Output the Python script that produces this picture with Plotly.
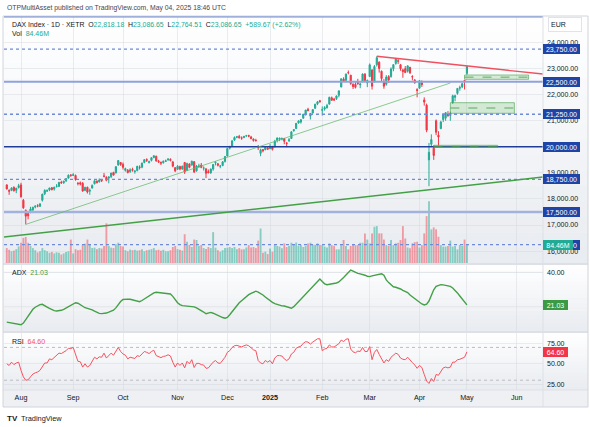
import pandas as pd
import plotly.graph_objects as go

W, H = 590, 427

# ---------------- data ----------------
HOLIDAYS = ["2024-12-24", "2024-12-25", "2024-12-26", "2024-12-31",
            "2025-01-01", "2025-04-18", "2025-04-21", "2025-05-01"]
CAL_START, CAL_END = "2024-07-22", "2025-06-30"
BAR_START, BAR_END = "2024-07-24", "2025-05-02"

OPEN = [18540, 18330, 18330, 18450, 18330, 18440,
        18540, 17950, 17560, 17440, 17520, 17580, 17690, 17740, 17720, 17950, 18200, 18300, 18350, 18430, 18380, 18480, 18480, 18640, 18620, 18700, 18800, 18920,
        18900, 18900, 18600, 18620, 18600, 18330, 18450, 18300, 18420, 18580, 18680, 18660, 18730, 18880, 18830, 18800, 18860, 19020, 19000, 19300, 19400,
        19330, 19100, 19100, 19050, 19130, 19050, 19090, 19220, 19220, 19400, 19510, 19400, 19480, 19590, 19640, 19450, 19400, 19390, 19440, 19500, 19520, 19420, 19200,
        19140, 19250, 19150, 19400, 19100, 19340, 19300, 19430, 19080, 19230, 19300, 19180, 19150, 19050, 19000, 19150, 19380, 19350, 19260, 19280, 19440,
        19650, 19950, 20030, 20260, 20370, 20400, 20350, 20360, 20420, 20440, 20380, 20300, 20250, 19980, 19750, 19900, 19890, 19950,
        19930, 20020, 20000, 20250, 20300, 20300, 20320, 20150, 20230, 20320, 20620, 20700, 20920, 20950, 21100, 21260, 21440, 21180, 21300, 21480, 21650, 21770,
        21400, 21450, 21500, 21640, 21880, 21830, 21850, 21980, 22300, 22600, 22550, 22850, 22750, 22400, 22400, 22500, 22380, 22500, 22790, 22450,
        22700, 22950, 22500, 23150, 23250, 22900, 22500, 22400, 22700, 22700, 23000, 23200, 23300, 23150, 22950, 23000, 22900, 23050, 22700, 22560, 22200,
        22250, 22450, 21800, 21600, 19500, 20100, 19950, 21000, 20450, 20700, 21050, 21100, 21250, 21200, 21700, 21900, 22050, 22250, 22300, 22550,
        22818.18]
HIGH = [18560, 18370, 18450, 18480, 18430, 18580,
        18620, 18000, 17600, 17520, 17700, 17700, 17760, 17800, 17830, 18200, 18370, 18370, 18430, 18460, 18470, 18570, 18660, 18700, 18700, 18800, 18940, 18950,
        18990, 18940, 18650, 18670, 18650, 18470, 18470, 18400, 18560, 18710, 18720, 18790, 18760, 19000, 18870, 18860, 19000, 19040, 19260, 19490, 19420,
        19400, 19200, 19150, 19180, 19200, 19110, 19270, 19290, 19400, 19520, 19560, 19470, 19600, 19675, 19660, 19500, 19440, 19480, 19510, 19560, 19560, 19460, 19220,
        19300, 19270, 19280, 19420, 19390, 19370, 19470, 19450, 19300, 19350, 19380, 19250, 19190, 19130, 19170, 19330, 19440, 19380, 19300, 19450, 19650,
        19960, 20040, 20250, 20400, 20420, 20460, 20400, 20420, 20460, 20460, 20420, 20320, 20310, 20070, 19930, 19900, 20020, 19990,
        20110, 20030, 20270, 20360, 20350, 20360, 20340, 20180, 20340, 20600, 20680, 20910, 21020, 21060, 21260, 21420, 21500, 21300, 21440, 21650, 21760, 21800,
        21550, 21560, 21650, 21920, 21930, 21880, 21970, 22160, 22620, 22670, 22800, 22930, 22760, 22440, 22480, 22610, 22460, 22820, 22830, 22580,
        23200, 22980, 23140, 23476, 23280, 22930, 22600, 22750, 22750, 23050, 23170, 23390, 23380, 23180, 23000, 23100, 23120, 23070, 22750, 22600, 22250,
        22560, 22550, 21900, 21660, 20150, 20480, 20050, 21050, 20600, 21000, 21280, 21330, 21370, 21350, 22000, 22000, 22250, 22350, 22450, 22560,
        23086.65]
LOW = [18360, 18160, 18300, 18280, 18220, 18400,
       18050, 17620, 17024, 17220, 17450, 17460, 17640, 17680, 17690, 17900, 18150, 18270, 18300, 18330, 18320, 18440, 18460, 18580, 18580, 18650, 18780, 18850,
       18890, 18700, 18520, 18520, 18280, 18300, 18210, 18160, 18400, 18560, 18590, 18630, 18650, 18830, 18680, 18600, 18800, 18900, 18980, 19280, 19270,
       19130, 19050, 18980, 19000, 19050, 18970, 19060, 19130, 19180, 19370, 19420, 19360, 19440, 19560, 19430, 19380, 19300, 19360, 19420, 19470, 19440, 19220, 19030,
       19110, 19100, 19120, 18960, 19080, 19180, 19280, 19000, 19050, 19200, 19180, 19090, 18800, 18990, 18970, 19080, 19290, 19250, 19180, 19260, 19400,
       19630, 19900, 20000, 20230, 20330, 20320, 20270, 20330, 20390, 20370, 20300, 20200, 20200, 19880, 19640, 19790, 19870, 19900,
       19910, 19860, 19980, 20170, 20220, 20250, 20100, 19990, 20190, 20300, 20580, 20690, 20890, 20890, 21080, 21200, 21360, 21050, 21280, 21460, 21600, 21700,
       21200, 21390, 21470, 21620, 21770, 21760, 21800, 21900, 22280, 22490, 22540, 22780, 22380, 22220, 22240, 22380, 22250, 22480, 22500, 22290,
       22680, 22200, 22470, 23080, 22850, 22500, 22230, 22350, 22450, 22650, 22900, 23150, 23180, 22920, 22650, 22830, 22850, 22800, 22550, 22420, 21900,
       22240, 22300, 21580, 20560, 18490, 20000, 19500, 20450, 20050, 20680, 20950, 21000, 21150, 21000, 21650, 21750, 22000, 22150, 22250, 22200,
       22764.51]
CLOSE = [18387, 18298, 18417, 18320, 18410, 18509,
         18083, 17661, 17339, 17354, 17615, 17680, 17722, 17726, 17812, 18183, 18330, 18322, 18421, 18357, 18449, 18493, 18633, 18617, 18681, 18782, 18913, 18906,
         18930, 18747, 18591, 18576, 18302, 18443, 18266, 18330, 18518, 18699, 18633, 18726, 18711, 18873, 18720, 18847, 18996, 18918, 19238, 19474, 19325,
         19213, 19164, 19015, 19121, 19104, 19066, 19254, 19210, 19373, 19508, 19486, 19432, 19583, 19657, 19461, 19421, 19377, 19443, 19464, 19531, 19479, 19257, 19078,
         19255, 19148, 19256, 19039, 19362, 19215, 19448, 19033, 19263, 19265, 19211, 19189, 18987, 19004, 19146, 19323, 19406, 19296, 19262, 19426, 19626,
         19934, 20016, 20232, 20359, 20385, 20346, 20329, 20399, 20426, 20406, 20314, 20246, 20242, 19970, 19885, 19849, 19985, 19909,
         20024, 19906, 20216, 20340, 20330, 20317, 20215, 20133, 20271, 20575, 20655, 20903, 20990, 21042, 21254, 21411, 21395, 21282, 21430, 21637, 21727, 21732,
         21428, 21505, 21586, 21902, 21787, 21800, 21953, 22148, 22612, 22513, 22798, 22844, 22433, 22314, 22287, 22426, 22410, 22794, 22550, 22551,
         23147, 22327, 23081, 23419, 23009, 22620, 22329, 22676, 22567, 22987, 23154, 23380, 23288, 22999, 22892, 22852, 23109, 22839, 22679, 22461, 22163,
         22539, 22390, 21717, 20641, 19790, 20280, 19670, 20563, 20374, 20955, 21254, 21311, 21206, 21294, 21961, 21962, 22242, 22272, 22426, 22496.98,
         23086.65]
VOLUME_M = [70, 62, 55, 58, 65, 78,
            95, 118, 122, 95, 80, 70, 60, 50, 55, 70, 60, 55, 48, 52, 45, 50, 48, 40, 45, 52, 55, 110,
            45, 65, 60, 62, 85, 90, 110, 85, 70, 72, 65, 70, 68, 80, 186, 80, 72, 70, 88, 95, 80,
            78, 60, 55, 63, 60, 62, 58, 60, 65, 55, 60, 62, 65, 70, 60, 62, 58, 62, 55, 55, 60, 75, 80,
            65, 62, 58, 135, 100, 85, 75, 110, 108, 80, 85, 70, 66, 75, 70, 145, 72, 60, 53, 60, 70,
            72, 75, 70, 75, 65, 70, 64, 64, 73, 84, 73, 75, 70, 105, 162, 48, 53, 42,
            68, 53, 84, 80, 77, 69, 92, 75, 80, 95, 85, 96, 80, 85, 75, 80, 92, 95, 85, 85, 92, 85,
            84, 77, 73, 92, 84, 80, 64, 64, 84, 108, 80, 64, 80, 84, 84, 84, 95, 95, 139, 110,
            92, 139, 170, 173, 139, 139, 110, 84, 80, 108, 84, 92, 95, 108, 173, 115, 73, 69, 92, 98, 100,
            73, 84, 139, 220, 290, 158, 167, 158, 123, 84, 77, 77, 80, 105, 77, 80, 64, 84, 80, 110,
            84.46]
ADX = [11.0, 10.8, 10.6, 10.4, 10.0, 9.6,
       9.5, 10.5, 12.5, 14.8, 16.5, 18.5, 19.7, 20.6, 21.2, 21.4, 20.8, 19.8, 19.0, 18.3, 17.7, 17.5, 17.6, 17.9, 18.5, 19.3, 20.1, 20.7,
       21.5, 22.3, 22.0, 21.0, 20.0, 19.4, 19.0, 18.7, 18.2, 17.4, 16.5, 16.1, 16.0, 16.1, 16.3, 16.8, 17.4, 18.0, 19.3, 21.3, 23.0,
       24.2, 24.5, 24.4, 24.3, 24.0, 23.5, 23.1, 22.9, 23.6, 24.5, 25.2, 26.2, 27.2, 28.0, 28.4, 28.2, 27.8, 27.6, 27.5, 27.5, 27.4, 26.0, 24.0,
       22.3, 21.2, 20.6, 20.5, 20.4, 20.2, 20.0, 19.9, 19.3, 18.6, 17.8, 16.9, 15.9, 16.2, 16.7, 16.2, 15.5, 14.8, 14.2, 13.7, 13.3,
       13.8, 15.3, 17.2, 19.0, 20.8, 22.3, 23.5, 24.8, 26.0, 27.0, 27.8, 28.5, 29.0, 28.5, 27.8, 26.8, 25.6, 24.5,
       23.5, 22.5, 21.8, 21.3, 20.8, 20.5, 20.4, 20.0, 19.4, 19.1, 20.0, 21.5, 22.9, 24.3, 25.6, 27.0, 28.5, 30.2, 31.5, 33.0, 34.6, 36.1,
       34.6, 33.3, 32.8, 33.0, 33.2, 33.4, 33.8, 34.4, 35.5, 37.0, 38.4, 40.0, 41.3, 40.7, 40.0, 39.4, 39.1, 38.9, 38.3, 37.7,
       37.5, 37.9, 38.1, 38.4, 38.9, 39.1, 38.3, 35.6, 34.0, 32.6, 31.6, 31.3, 30.9, 30.3, 29.5, 29.0, 28.2, 26.8, 25.8, 24.4, 23.3,
       22.5, 21.6, 21.0, 21.5, 23.3, 26.5, 29.8, 31.8, 32.4, 32.8, 32.7, 32.4, 32.1, 31.8, 30.9, 29.6, 28.0, 26.2, 24.5, 22.7,
       21.03]
RSI = [50, 48, 52, 49, 51, 52,
       42, 34, 30, 30.5, 34, 37.5, 39, 40, 42, 47, 51, 51, 56, 55, 58, 60, 63, 62.5, 64, 66, 69, 68.5,
       70, 60, 53, 52.5, 46, 50, 46, 48, 53, 58, 56, 58.5, 58, 63, 57, 60, 63, 60.5, 66, 70, 65,
       62, 60.5, 56, 58, 57.5, 56.5, 60, 59, 62, 65, 64, 62.5, 65, 66.5, 60, 59, 57.5, 59, 59.5, 61, 59.5, 52, 46,
       51, 48, 51, 45, 53, 50, 55, 45.5, 50.5, 50.5, 49, 48.5, 44.5, 45, 48.5, 52, 54, 51, 50.5, 54, 58,
       64, 66, 70, 72, 72.5, 71, 70.5, 72, 73, 72, 69, 67, 66, 54, 51, 50, 54, 52,
       54, 50, 57, 60, 60, 59.5, 56, 54, 56, 62, 64, 69, 70.5, 71.5, 75, 77, 76.5, 74, 76.5, 79, 80.5, 80.5,
       66, 68, 69, 73, 70.5, 70.5, 72, 74.5, 79, 77, 80, 80.5, 68, 64.5, 63.5, 65.5, 65, 70, 65, 65,
       71, 55, 64, 67.5, 61.5, 55.5, 51, 55, 53, 58, 60.5, 63, 61.5, 57, 55.5, 55, 58, 54, 51.5, 48.5, 44.5,
       48, 45.5, 37, 29, 26, 32, 28.5, 37, 36, 41, 45, 46, 45, 46, 52, 52, 55, 55.5, 57, 58,
       64.60]

MONTH_LABELS = ["Aug", "Sep", "Oct", "Nov", "Dec", "<b>2025</b>", "Feb", "Mar", "Apr", "May", "Jun"]
PRICE_TICKS = [16000, 17000, 18000, 19000, 20000, 21000, 22000, 23000, 24000]
ADX_TICKS = [40]
ADX_GRID = [20, 40]
RSI_TICKS = [25, 50, 75]
RSI_BANDS = [30, 70]

LEVELS = [25000, 23750, 22500, 21250, 20000, 18750, 17500, 16250]
LEVEL_KIND = ["top", "dot", "light", "dot", "dark", "dot", "pale", "dot"]

TREND_THIN = [("2024-08-05", 17024), ("2025-04-22", 22450)]
TREND_LONG = [("2024-07-22", 16528), ("2025-06-17", 18842)]
TREND_RED = [("2025-03-06", 23476), ("2025-06-17", 22795)]
ZONES = [("2025-04-30", "2025-06-09", 22592, 22757),
         ("2025-04-22", "2025-05-30", 21287, 21694),
         ("2025-04-09", "2025-05-21", 19982, 20059)]

HEADER = "OTPMultiAsset published on TradingView.com, May 04, 2025 18:46 UTC"
SYMBOL = "DAX Index · 1D · XETR"

# ---------------- calendar / x positions ----------------
cal = [d.strftime("%Y-%m-%d") for d in pd.bdate_range(CAL_START, CAL_END)]
cal = [d for d in cal if d not in HOLIDAYS]
pos = {d: i for i, d in enumerate(cal)}
bar_dates = [d for d in cal if BAR_START <= d <= BAR_END]
n = len(bar_dates)
assert n == len(OPEN) == len(HIGH) == len(LOW) == len(CLOSE) == len(VOLUME_M) == len(ADX) == len(RSI)
xs = [pos[d] for d in bar_dates]

tickvals, seen = [], set()
for d in cal:
    ym = d[:7]
    if ym not in seen:
        seen.add(ym)
        if ym >= "2024-08":
            tickvals.append(pos[d])
tickvals = tickvals[:len(MONTH_LABELS)]

# ---------------- styling ----------------
UP, DOWN = "#22ab94", "#f23645"
UP_V, DOWN_V = "rgba(34,171,148,0.5)", "rgba(242,54,69,0.45)"
TXT = "#131722"
FONT = "Liberation Sans"
GRID = "rgba(210,214,222,0.45)"

def px(x):
    return x / W

def py(y):
    return 1 - y / H

X_L, X_R = 4, 543
MAIN = (16, 263)
ADXP = (265, 331)
RSIP = (333, 390)
XRANGE = [0.83, 228.07]
PRICE_RANGE = [15543, 25021]
VOL_RANGE = [0, 1159e6]
ADX_RANGE = [5.87, 44.24]
RSI_RANGE = [18.05, 87.56]

colors_v = [UP_V if c >= o else DOWN_V for o, c in zip(OPEN, CLOSE)]

fig = go.Figure()
fig.add_trace(go.Bar(x=xs, y=[v * 1e6 for v in VOLUME_M], marker=dict(color=colors_v, line=dict(width=0)),
                     xaxis="x", yaxis="y4", width=0.78, hoverinfo="skip"))
fig.add_trace(go.Candlestick(x=xs, open=OPEN, high=HIGH, low=LOW, close=CLOSE, xaxis="x", yaxis="y",
                             increasing=dict(line=dict(color=UP, width=1), fillcolor=UP),
                             decreasing=dict(line=dict(color=DOWN, width=1), fillcolor=DOWN),
                             whiskerwidth=0))
fig.add_trace(go.Scatter(x=xs, y=ADX, mode="lines", line=dict(color="#43a047", width=1.4),
                         xaxis="x2", yaxis="y2"))
fig.add_trace(go.Scatter(x=xs, y=RSI, mode="lines", line=dict(color="#f7525f", width=1),
                         xaxis="x3", yaxis="y3"))

shapes = []

def gradient(y0, y1, top=(255, 255, 255), bot=(232, 235, 240), k=16):
    step = (y1 - y0) / k
    for i in range(k):
        t = (i + 0.5) / k
        c = tuple(round(a + (b - a) * t) for a, b in zip(top, bot))
        shapes.append(dict(type="rect", xref="paper", yref="paper", x0=px(3), x1=px(588),
                           y0=py(y0 + step * (i + 1) + 0.4), y1=py(y0 + step * i),
                           fillcolor="rgb(%d,%d,%d)" % c, line=dict(width=0), layer="below"))

gradient(*MAIN)
gradient(*ADXP)
gradient(*RSIP)
for (a, b) in [(263, 265), (331, 333)]:
    shapes.append(dict(type="rect", xref="paper", yref="paper", x0=px(3), x1=px(588), y0=py(b), y1=py(a),
                       fillcolor="#dde0e6", line=dict(width=0), layer="below"))
shapes.append(dict(type="rect", xref="paper", yref="paper", x0=px(3), x1=px(588), y0=py(407), y1=py(390),
                   fillcolor="#eef0f4", line=dict(width=0), layer="below"))
shapes.append(dict(type="line", xref="paper", yref="paper", x0=px(3), x1=px(588), y0=py(390), y1=py(390),
                   line=dict(color="#dde0e6", width=1), layer="below"))

# ADX grid lines
for gv in ADX_GRID:
    shapes.append(dict(type="line", xref="x2 domain", yref="y2", x0=0, x1=1, y0=gv, y1=gv,
                       line=dict(color=GRID, width=1), layer="below"))

# horizontal levels
LSTYLE = {"top": dict(color="#6d8cd9", width=2),
          "dot": dict(color="#6f8ad6", width=1.3, dash="dot"),
          "light": dict(color="#8ea2dc", width=2),
          "dark": dict(color="#1f3c9a", width=1.5),
          "pale": dict(color="#a3b2dd", width=2.6)}
for lv, kind in zip(LEVELS, LEVEL_KIND):
    shapes.append(dict(type="line", xref="x domain", yref="y", x0=0, x1=1, y0=lv, y1=lv,
                       line=LSTYLE[kind], layer="above"))

# rsi bands
for b in RSI_BANDS:
    shapes.append(dict(type="line", xref="x3 domain", yref="y3", x0=0, x1=1, y0=b, y1=b,
                       line=dict(color="#b8bcc6", width=1, dash="dot"), layer="below"))

# zones
for d0, d1, lo, hi in ZONES:
    shapes.append(dict(type="rect", xref="x", yref="y", x0=pos[d0], x1=pos[d1], y0=lo, y1=hi,
                       fillcolor="rgba(102,187,106,0.25)", line=dict(color="rgba(67,160,71,0.6)", width=1),
                       layer="above"))
    shapes.append(dict(type="line", xref="x", yref="y", x0=pos[d0], x1=pos[d1], y0=(lo + hi) / 2, y1=(lo + hi) / 2,
                       line=dict(color="rgba(67,160,71,0.85)", width=1, dash="dash"), layer="above"))

# trend lines
for pts, st in [(TREND_THIN, dict(color="rgba(102,187,106,0.75)", width=1)),
                (TREND_LONG, dict(color="#43a047", width=1.5)),
                (TREND_RED, dict(color="#f0505f", width=1.3))]:
    (d0, p0), (d1, p1) = pts
    shapes.append(dict(type="line", xref="x", yref="y", x0=pos[d0], x1=pos[d1], y0=p0, y1=p1,
                       line=st, layer="above"))

# frame and axis separator
shapes.append(dict(type="line", xref="paper", yref="paper", x0=px(543), x1=px(543), y0=py(407), y1=py(16),
                   line=dict(color="#dde0e6", width=1), layer="above"))
shapes.append(dict(type="rect", xref="paper", yref="paper", x0=px(3), x1=px(588), y0=py(407), y1=py(16),
                   line=dict(color="#d1d4dc", width=1), fillcolor="rgba(0,0,0,0)", layer="above"))

ann = []

def label(text, y, yref, bg, width=35, color="white"):
    ann.append(dict(text=text, xref="paper", yref=yref, x=px(542.5), y=y, xanchor="left", yanchor="middle",
                    showarrow=False, bgcolor=bg, font=dict(family=FONT, size=7, color=color),
                    width=width, height=8, borderpad=1, borderwidth=0, align="center"))

for lv in LEVELS[1:]:
    label(f"{lv:,.2f}", lv, "y", "#1e44a8")
label(f"{VOLUME_M[-1]:.2f}M", VOLUME_M[-1] * 1e6, "y4", "#22ab94", width=28)
label(f"{ADX[-1]:.2f}", ADX[-1], "y2", "#3d9a44", width=23)
label(f"{RSI[-1]:.2f}", RSI[-1], "y3", "#f23645", width=23)

# EUR box
ann.append(dict(text="EUR", xref="paper", yref="paper", x=px(548), y=py(25), xanchor="left", yanchor="middle",
                showarrow=False, bgcolor="white", bordercolor="#e0e3eb", borderwidth=1, borderpad=2,
                width=28, height=9, align="left", font=dict(family=FONT, size=7, color=TXT)))

def txt(s, x, y, size=7.0, color=TXT):
    ann.append(dict(text=s, xref="paper", yref="paper", x=px(x), y=py(y), xanchor="left", yanchor="middle",
                    showarrow=False, font=dict(family=FONT, size=size, color=color)))

def g(s, c=UP):
    return f"<span style='color:{c}'>{s}</span>"

chg = CLOSE[-1] - CLOSE[-2]
pct = chg / CLOSE[-2] * 100
txt(HEADER, 5, 8, size=6.8, color="#434651")
txt(f"{SYMBOL}  O{g(f'{OPEN[-1]:,.2f}')}  H{g(f'{HIGH[-1]:,.2f}')}  L{g(f'{LOW[-1]:,.2f}')}  "
    f"C{g(f'{CLOSE[-1]:,.2f}')}  {g(f'{chg:+,.2f} ({pct:+.2f}%)')}", 10, 25, size=6.9)
txt(f"Vol  {g(f'{VOLUME_M[-1]:.2f}M')}", 10, 34)
txt(f"ADX  {g(f'{ADX[-1]:.2f}', '#43a047')}", 10, 272.5)
txt(f"RSI  {g(f'{RSI[-1]:.2f}', '#f7525f')}", 10, 341.5)
txt("<b>TV</b>", 5, 418, size=8)
txt("TradingView", 19, 418, size=7.4)

xcommon = dict(range=XRANGE, domain=[px(X_L), px(X_R)], showgrid=True, gridcolor=GRID, gridwidth=1,
               tickvals=tickvals, ticktext=MONTH_LABELS, zeroline=False, showline=False, ticks="",
               fixedrange=True)
ycommon = dict(side="right", showgrid=True, gridcolor=GRID, zeroline=False, showline=False, ticks="",
               tickfont=dict(family=FONT, size=7, color=TXT), ticklabelstandoff=3)

fig.update_layout(
    width=W, height=H, margin=dict(l=0, r=0, t=0, b=0),
    paper_bgcolor="white", plot_bgcolor="rgba(0,0,0,0)", showlegend=False,
    xaxis=dict(**xcommon, anchor="y", showticklabels=False, rangeslider=dict(visible=False)),
    xaxis2=dict(**xcommon, anchor="y2", matches="x", showticklabels=False),
    xaxis3=dict(**xcommon, anchor="y3", matches="x", showticklabels=True, ticklabelstandoff=2,
                tickfont=dict(family=FONT, size=7.2, color=TXT)),
    yaxis=dict(**ycommon, domain=[py(MAIN[1]), py(MAIN[0])], range=PRICE_RANGE, anchor="x",
               tickvals=PRICE_TICKS, tickformat=",.2f"),
    yaxis4=dict(overlaying="y", range=VOL_RANGE, visible=False, anchor="x", side="left"),
    yaxis2=dict(**ycommon, domain=[py(ADXP[1]), py(ADXP[0])], range=ADX_RANGE, anchor="x2",
                tickvals=ADX_TICKS, tickformat=".2f"),
    yaxis3=dict(**ycommon, domain=[py(RSIP[1]), py(RSIP[0])], range=RSI_RANGE, anchor="x3",
                tickvals=RSI_TICKS, tickformat=".2f"),
    shapes=shapes, annotations=ann,
)

fig.write_html("out.html")
